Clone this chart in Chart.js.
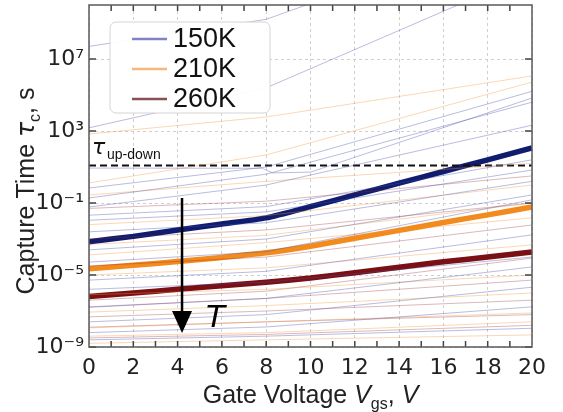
<!DOCTYPE html>
<html>
<head>
<meta charset="utf-8">
<script src="https://cdn.jsdelivr.net/npm/chart.js@4.4.1/dist/chart.umd.min.js"></script>
<style>
  body { margin: 0; background: #fff; }
  #wrap { width: 563px; height: 412px; }
</style>
</head>
<body>
<div id="wrap"><canvas id="captureChart" width="563" height="412"></canvas></div>
<script>
// gate voltages (V)
const thickVgs = [0, 2, 4, 6, 8, 10, 12, 14, 16, 18, 20];
const thinVgs = [0, 8, 20];
const notchVgs = [0, 7.8, 8.3, 10, 20];

// bold curves: capture time (s)
const tau150 = [7.1e-4, 1.4e-3, 3.2e-3, 6.8e-3, 1.5e-2, 6.3e-2, 0.28, 1.26, 5.6, 25, 115];
const tau210 = [2.2e-5, 3.5e-5, 5.6e-5, 9.5e-5, 1.7e-4, 4.0e-4, 1.1e-3, 3.0e-3, 8.3e-3, 2.2e-2, 6.0e-2];
const tau260 = [6.3e-7, 1.0e-6, 1.6e-6, 2.5e-6, 4.0e-6, 6.8e-6, 1.35e-5, 2.7e-5, 5.4e-5, 1.0e-4, 1.9e-4];

// faint single-trap curves, capture time (s) at thinVgs
const traps150 = [
    [5e7, 1.6e9, 3e14],
    [1.5e3, 2.5e5, 6e11],
    [0.68, 10, 1.6e5],
    [0.19, 4, 4e4],
    [0.06, 1, 2.1e3],
    [0.021, 0.063, 25],
    [0.011, 0.032, 6.8],
    [2.5e-3, 8e-3, 1.6],
    [2.5e-4, 1e-3, 0.28],
    [5.2e-5, 2e-4, 0.15],
    [5.2e-6, 1.6e-5, 1.7e-3],
    [1.6e-6, 4e-6, 1e-4],
    [1.6e-7, 5e-7, 2.8e-5],
    [2.5e-8, 6.3e-8, 2.1e-6],
    [6.3e-9, 1.3e-8, 1.7e-7],
    [2.5e-9, 4e-9, 1.1e-8]
];
const notch150 = [8.7, 8.5, 4.7, 5.2, 6.8e4];
const traps210 = [
    [680, 6e3, 1.15e6],
    [1.3, 47, 5.2e5],
    [0.28, 1.6, 16],
    [6.3e-3, 0.02, 1],
    [5e-4, 1.6e-3, 0.1],
    [1.3e-4, 6.3e-4, 0.015],
    [1e-5, 2.5e-5, 4.7e-4],
    [8e-7, 1.6e-6, 1e-5],
    [8.7e-8, 2e-7, 1e-6],
    [1.15e-8, 2.5e-8, 7.8e-8],
    [4e-9, 6.3e-9, 2.5e-8],
    [1.6e-9, 2.5e-9, 4.7e-9]
];
const traps260 = [
    [0.05, 0.126, 3.2],
    [1e-3, 3.2e-3, 0.1],
    [3.2e-5, 1e-4, 6e-3],
    [4e-7, 1.26e-6, 8.7e-5],
    [1.7e-7, 5e-7, 5.2e-6],
    [4.7e-8, 1e-7, 4e-7],
    [1.26e-8, 2.5e-8, 6.3e-8],
    [3.2e-9, 5e-9, 1.6e-8]
];

const tauUpDown = 12;
const arrowVgs = 4.2;
const arrowFrom = 0.19;
const arrowTo = 6e-9;

const legendLabels = ["150K", "210K", "260K"];
const yTickValues = [1e-9, 1e-5, 1e-1, 1e3, 1e7];
const yTickLabels = ["10\u207B\u2079", "10\u207B\u2075", "10\u207B\u00B9", "10\u00B3", "10\u2077"];

const thickColors = ["#101c6e", "#f28a1e", "#7a1014"];
const thinColors = ["rgba(70, 78, 170, 0.38)", "rgba(245, 150, 60, 0.38)", "rgba(150, 40, 50, 0.33)"];
const legendColors = ["#8084c2", "#f5b77a", "#8a4f55"];

function toPoints(xs, ys) {
    return xs.map((x, i) => ({ x: x, y: ys[i] }));
}

function thinSet(xs, ys, color) {
    return { data: toPoints(xs, ys), borderColor: color, borderWidth: 1, pointRadius: 0, tension: 0, fill: false };
}

const datasets = [];
traps150.forEach(t => datasets.push(thinSet(thinVgs, t, thinColors[0])));
datasets.push(thinSet(notchVgs, notch150, thinColors[0]));
traps210.forEach(t => datasets.push(thinSet(thinVgs, t, thinColors[1])));
traps260.forEach(t => datasets.push(thinSet(thinVgs, t, thinColors[2])));
datasets.push({
    data: [{ x: 0, y: tauUpDown }, { x: 20, y: tauUpDown }],
    borderColor: "#111", borderWidth: 2, borderDash: [7, 4], pointRadius: 0, fill: false
});
[tau150, tau210, tau260].forEach((t, i) => {
    datasets.push({ data: toPoints(thickVgs, t), borderColor: thickColors[i], borderWidth: 5.5, pointRadius: 0, tension: 0.2, fill: false, borderCapStyle: "butt" });
});

// frame, inward ticks, legend, titles and annotations
const decorations = {
    id: "decorations",
    afterDraw(chart) {
        const ctx = chart.ctx;
        const a = chart.chartArea;
        const xs = chart.scales.x;
        const ys = chart.scales.y;
        ctx.save();

        // inward tick marks
        ctx.strokeStyle = "#444";
        ctx.lineWidth = 1.5;
        for (let v = 1; v < 20; v++) {
            const px = xs.getPixelForValue(v);
            ctx.beginPath();
            ctx.moveTo(px, a.bottom); ctx.lineTo(px, a.bottom - 6);
            ctx.moveTo(px, a.top); ctx.lineTo(px, a.top + 6);
            ctx.stroke();
        }
        yTickValues.forEach(v => {
            const py = ys.getPixelForValue(v);
            ctx.beginPath();
            ctx.moveTo(a.left, py); ctx.lineTo(a.left + 7, py);
            ctx.moveTo(a.right, py); ctx.lineTo(a.right - 7, py);
            ctx.stroke();
        });

        // frame
        ctx.strokeStyle = "#5a5a5a";
        ctx.lineWidth = 1.5;
        ctx.strokeRect(a.left, a.top, a.right - a.left, a.bottom - a.top);

        // tau up-down label
        ctx.fillStyle = "#111";
        ctx.textBaseline = "alphabetic";
        ctx.textAlign = "left";
        ctx.font = "italic 22px 'DejaVu Sans'";
        ctx.fillText("\u03C4", a.left + 3, 154);
        ctx.font = "14px 'Liberation Sans'";
        ctx.fillText("up-down", a.left + 18, 159);

        // temperature arrow
        const ax = xs.getPixelForValue(arrowVgs);
        const ay0 = ys.getPixelForValue(arrowFrom);
        const ay1 = ys.getPixelForValue(arrowTo);
        ctx.strokeStyle = "#000";
        ctx.lineWidth = 2.5;
        ctx.beginPath();
        ctx.moveTo(ax, ay0); ctx.lineTo(ax, ay1 - 18);
        ctx.stroke();
        ctx.fillStyle = "#000";
        ctx.beginPath();
        ctx.moveTo(ax - 10, ay1 - 22);
        ctx.lineTo(ax + 10, ay1 - 22);
        ctx.lineTo(ax, ay1);
        ctx.closePath();
        ctx.fill();
        ctx.font = "italic 31px 'DejaVu Sans'";
        ctx.fillText("T", ax + 24, ay1 - 6);

        // legend box
        const bx = 110, by = 22, bw = 160, bh = 91, r = 6;
        ctx.fillStyle = "rgba(255,255,255,0.95)";
        ctx.strokeStyle = "#d4d4d4";
        ctx.lineWidth = 1;
        ctx.beginPath();
        ctx.roundRect(bx, by, bw, bh, r);
        ctx.fill();
        ctx.stroke();
        ctx.font = "27px 'Liberation Sans'";
        ctx.textBaseline = "middle";
        legendLabels.forEach((lab, i) => {
            const ly = 39 + i * 30;
            ctx.strokeStyle = legendColors[i];
            ctx.lineWidth = 2.5;
            ctx.beginPath();
            ctx.moveTo(132, ly); ctx.lineTo(167, ly);
            ctx.stroke();
            ctx.fillStyle = "#111";
            ctx.fillText(lab, 173, ly + 1);
        });

        // x axis title
        ctx.textBaseline = "alphabetic";
        ctx.fillStyle = "#222";
        const xParts = [
            ["Gate Voltage ", "25px 'Liberation Sans'", 0],
            ["V", "italic 25px 'Liberation Sans'", 0],
            ["gs", "16px 'Liberation Sans'", 6],
            [", ", "25px 'Liberation Sans'", 0],
            ["V", "italic 25px 'Liberation Sans'", 0]
        ];
        drawParts(ctx, xParts, (a.left + a.right) / 2, 403);

        // y axis title
        ctx.save();
        ctx.translate(34, 191);
        ctx.rotate(-Math.PI / 2);
        const yParts = [
            ["Capture Time ", "25px 'Liberation Sans'", 0],
            ["\u03C4", "italic 25px 'DejaVu Sans'", 0],
            ["c", "16px 'Liberation Sans'", 6],
            [", s", "25px 'Liberation Sans'", 0]
        ];
        drawParts(ctx, yParts, 0, 0);
        ctx.restore();

        ctx.restore();
    }
};

function drawParts(ctx, parts, cx, baseY) {
    let total = 0;
    parts.forEach(p => { ctx.font = p[1]; total += ctx.measureText(p[0]).width; });
    let x = cx - total / 2;
    parts.forEach(p => {
        ctx.font = p[1];
        ctx.fillText(p[0], x, baseY + p[2]);
        x += ctx.measureText(p[0]).width;
    });
}

const gridStyle = { color: "#cfcfcf", lineWidth: 1, drawTicks: false };

new Chart(document.getElementById("captureChart"), {
    type: "line",
    data: { datasets: datasets },
    options: {
        responsive: false,
        animation: false,
        layout: { padding: { top: 5, right: 31, left: 0, bottom: 0 } },
        plugins: { legend: { display: false }, tooltip: { enabled: false } },
        scales: {
            x: {
                type: "linear",
                min: 0,
                max: 20,
                grid: gridStyle,
                border: { display: false, dash: [3, 3] },
                ticks: { stepSize: 2, padding: 8, color: "#222", font: { family: "DejaVu Sans", size: 22 } },
                afterFit: (scale) => {
                    scale.height = 65;
                    scale.paddingLeft = 0;
                    scale.paddingRight = 0;
                }
            },
            y: {
                type: "logarithmic",
                min: 1e-9,
                max: 1e10,
                grid: gridStyle,
                border: { display: false, dash: [3, 3] },
                afterBuildTicks: (scale) => {
                    scale.ticks = yTickValues.map(v => ({ value: v }));
                },
                ticks: {
                    autoSkip: false,
                    padding: 5,
                    color: "#222",
                    font: { family: "DejaVu Sans", size: 22 },
                    callback: (value) => yTickLabels[yTickValues.indexOf(value)]
                },
                afterFit: (scale) => {
                    scale.width = 89;
                    scale.paddingTop = 0;
                    scale.paddingBottom = 0;
                }
            }
        }
    },
    plugins: [decorations]
});
</script>
</body>
</html>
